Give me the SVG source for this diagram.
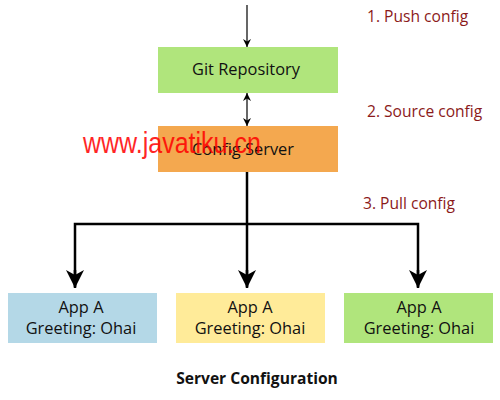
<svg xmlns="http://www.w3.org/2000/svg" width="500" height="400" viewBox="0 0 500 400">
<style>
.t{font-family:"Open Sans","Liberation Sans",sans-serif;font-size:16.4px;fill:#111;text-anchor:middle}
.lbl{font-family:"Open Sans","Liberation Sans",sans-serif;font-size:15.6px;fill:#8b1a1a}
.ln{stroke:#000;fill:none}
</style>
<defs>
<marker id="sm" viewBox="0 0 10 10" refX="10" refY="5" markerWidth="8" markerHeight="8" markerUnits="userSpaceOnUse" orient="auto-start-reverse"><path d="M0,0 L10,5 L0,10 L3,5 Z" fill="#000"/></marker>
<marker id="big" viewBox="0 0 18 18" refX="18" refY="9" markerWidth="18" markerHeight="18" markerUnits="userSpaceOnUse" orient="auto"><path d="M0,0 L18,9 L0,18 L5,9 Z" fill="#000"/></marker>
</defs>
<rect width="500" height="400" fill="#fff"/>
<g id="connectors">
<line class="ln" x1="247" y1="5" x2="247" y2="47" stroke-width="1.2" marker-end="url(#sm)"/>
<line class="ln" x1="247" y1="93" x2="247" y2="126" stroke-width="1.2" marker-start="url(#sm)" marker-end="url(#sm)"/>
<path class="ln" stroke-width="2.5" d="M247,172 V287"/>
<path class="ln" stroke-width="2.5" d="M75,287 V224 H418 V287"/>
<line class="ln" x1="75" y1="270" x2="75" y2="288" stroke-width="2.5" marker-end="url(#big)"/>
<line class="ln" x1="247" y1="270" x2="247" y2="288" stroke-width="2.5" marker-end="url(#big)"/>
<line class="ln" x1="418" y1="270" x2="418" y2="288" stroke-width="2.5" marker-end="url(#big)"/>
</g>
<g id="git">
<rect x="158" y="47" width="180" height="46" fill="#b0e57c"/>
<text class="t" x="246" y="75">Git Repository</text>
</g>
<g id="config">
<rect x="158" y="126" width="180" height="46" fill="#f4a84f"/>
<text class="t" x="243" y="155">Config Server</text>
</g>
<g id="app1">
<rect x="8" y="293" width="149" height="50" fill="#b4d8e7"/>
<text class="t" x="81" y="313">App A</text>
<text class="t" x="81" y="334">Greeting: Ohai</text>
</g>
<g id="app2">
<rect x="176" y="293" width="149" height="50" fill="#ffeb99"/>
<text class="t" x="250" y="313">App A</text>
<text class="t" x="250" y="334">Greeting: Ohai</text>
</g>
<g id="app3">
<rect x="344" y="293" width="149" height="50" fill="#b0e57c"/>
<text class="t" x="419" y="313">App A</text>
<text class="t" x="419" y="334">Greeting: Ohai</text>
</g>
<g id="labels">
<text class="lbl" x="367" y="22">1. Push config</text>
<text class="lbl" x="367" y="117">2. Source config</text>
<text class="lbl" x="363" y="209">3. Pull config</text>
<text x="257" y="384" style="font-family:'Open Sans','Liberation Sans',sans-serif;font-size:15.6px;font-weight:bold;fill:#111;text-anchor:middle">Server Configuration</text>
</g>
<text transform="translate(83,153) scale(1,1.15)" x="0" y="0" style="font-family:'Liberation Sans',Arial,sans-serif;font-size:25px;fill:#ff0000" opacity="0.85">www.javatiku.cn</text>
</svg>
